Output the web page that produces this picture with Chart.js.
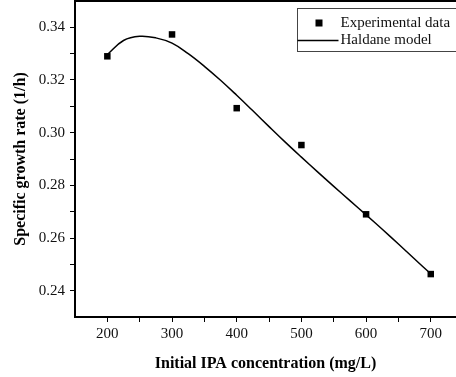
<!DOCTYPE html>
<html>
<head>
<meta charset="utf-8">
<script src="https://cdn.jsdelivr.net/npm/chart.js@4"></script>
<style>
  html, body { margin: 0; padding: 0; background: #fff; overflow: hidden; }
  #wrap { width: 456px; height: 377px; }
</style>
</head>
<body>
<div id="wrap"><canvas id="haldaneChart" width="456" height="377"></canvas></div>
<script>
// Experimental points (mg/L vs 1/h)
const concentration = [200, 300, 400, 500, 600, 700];
const experimental = [0.329, 0.3373, 0.3093, 0.2953, 0.269, 0.2463];

// Haldane model curve
const modelConc = [200, 225, 250, 275, 300, 325, 350, 375, 400, 425, 450, 475, 500, 525, 550, 575, 600, 625, 650, 675, 700];
const modelRate = [0.3297, 0.3350, 0.3366, 0.3360, 0.3340, 0.3300, 0.3252, 0.3199, 0.3142, 0.3083, 0.3023, 0.2964, 0.2907, 0.2851, 0.2796, 0.2742, 0.2688, 0.2633, 0.2577, 0.2520, 0.2464];

const xTicks = [200, 250, 300, 350, 400, 450, 500, 550, 600, 650, 700];
const yTicks = [24, 25, 26, 27, 28, 29, 30, 31, 32, 33, 34]; // hundredths

Chart.defaults.font.family = "'Liberation Serif', 'Times New Roman', serif";
Chart.defaults.color = '#111';

function noEdgePadding(axis) {
  axis.paddingTop = 0;
  axis.paddingBottom = 0;
  axis.paddingLeft = 0;
  axis.paddingRight = 0;
}

// top frame line + legend box inside the plot
const framePlugin = {
  id: 'frame',
  afterDraw(chart) {
    const { ctx, chartArea } = chart;
    ctx.save();
    ctx.strokeStyle = '#000';
    ctx.lineWidth = 2;
    ctx.beginPath();
    ctx.moveTo(chartArea.left, chartArea.top);
    ctx.lineTo(chart.width, chartArea.top);
    ctx.stroke();

    // legend
    const bx = 297.5, by = 8.5, bw = 170, bh = 43;
    ctx.lineWidth = 1;
    ctx.strokeStyle = '#444';
    ctx.strokeRect(bx, by, bw, bh);

    const ds = chart.data.datasets;
    ctx.font = "15px 'Liberation Serif'";
    ctx.textBaseline = 'middle';
    ctx.textAlign = 'left';

    ctx.fillStyle = '#000';
    ctx.fillRect(bx + 18, by + 11, 7, 7);
    ctx.fillStyle = '#111';
    ctx.fillText(ds[0].label, bx + 43, by + 15);

    ctx.strokeStyle = '#000';
    ctx.lineWidth = 1.5;
    ctx.beginPath();
    ctx.moveTo(bx, by + 32);
    ctx.lineTo(bx + 41, by + 32);
    ctx.stroke();
    ctx.fillText(ds[1].label, bx + 43, by + 32);
    ctx.restore();
  }
};

const ctx = document.getElementById('haldaneChart').getContext('2d');
window.haldaneChart = new Chart(ctx, {
  type: 'scatter',
  data: {
    datasets: [
      {
        label: 'Experimental data',
        data: concentration.map((c, i) => ({ x: c, y: experimental[i] })),
        pointStyle: 'rect',
        pointRadius: 4.6,
        pointBorderWidth: 0,
        backgroundColor: '#000',
        borderColor: '#000'
      },
      {
        label: 'Haldane model',
        data: modelConc.map((c, i) => ({ x: c, y: modelRate[i] })),
        showLine: true,
        pointRadius: 0,
        borderColor: '#000',
        borderWidth: 1.5,
        tension: 0.4
      }
    ]
  },
  options: {
    responsive: false,
    animation: false,
    layout: { autoPadding: false, padding: { top: 1, right: 0, left: 0, bottom: 0 } },
    plugins: {
      legend: { display: false },
      tooltip: { enabled: false }
    },
    scales: {
      x: {
        type: 'linear',
        min: 150,
        max: 739,
        afterBuildTicks: axis => { axis.ticks = xTicks.map(v => ({ value: v })); },
        afterFit: axis => { axis.height = 60; noEdgePadding(axis); },
        grid: { drawOnChartArea: false, tickLength: 5, color: '#000', tickWidth: 1 },
        border: { color: '#000', width: 2 },
        ticks: {
          font: { size: 15 },
          padding: 3,
          maxRotation: 0,
          autoSkip: false,
          callback: v => (v % 100 === 0 ? String(v) : '')
        },
        title: {
          display: true,
          text: 'Initial IPA concentration (mg/L)',
          font: { size: 16, weight: 'bold' },
          color: '#000',
          padding: { top: 4, bottom: 4 }
        }
      },
      y: {
        min: 0.23,
        max: 0.35,
        afterBuildTicks: axis => { axis.ticks = yTicks.map(v => ({ value: v / 100 })); },
        afterFit: axis => { axis.width = 75; noEdgePadding(axis); },
        grid: { drawOnChartArea: false, tickLength: 5, color: '#000', tickWidth: 1 },
        border: { color: '#000', width: 2 },
        ticks: {
          font: { size: 15 },
          padding: 5,
          autoSkip: false,
          callback: v => (Math.round(v * 100) % 2 === 0 ? v.toFixed(2) : '')
        },
        title: {
          display: true,
          text: 'Specific growth rate (1/h)',
          font: { size: 16, weight: 'bold' },
          color: '#000',
          padding: { top: 11, bottom: 4 }
        }
      }
    }
  },
  plugins: [framePlugin]
});
</script>
</body>
</html>
